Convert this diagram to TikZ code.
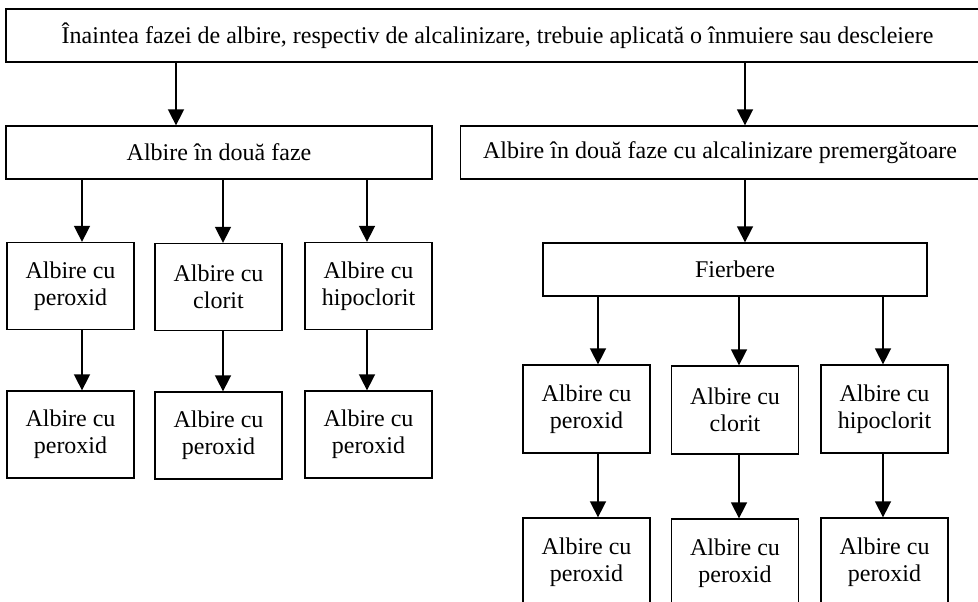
\documentclass[tikz,border=0pt]{standalone}
\usepackage{fontspec}
\setmainfont{Liberation Serif}
\usetikzlibrary{arrows.meta}

\begin{document}
\begin{tikzpicture}[x=1pt,y=-1pt,
    box/.style={draw,line width=1.3pt,inner sep=0pt,align=center,minimum width=127pt,minimum height=87pt,font=\fontsize{24}{27}\selectfont},
    wide/.style={box,minimum height=53pt},
    arr/.style={-{Triangle[length=16pt,width=16pt]},line width=1.6pt}]
    \useasboundingbox (0,0) rectangle (978,602);
    \clip (0,0) rectangle (978,602);

    \node [wide,minimum width=983pt] (top) at (497.5,35.5) {Înaintea fazei de albire, respectiv de alcalinizare, trebuie aplicată o înmuiere sau descleiere};
    \node [wide,minimum width=426pt] (two) at (219,152.5) {Albire în două faze};
    \node [wide,minimum width=519pt] (twoalk) at (720,152.5) {Albire în două faze cu alcalinizare premergătoare};
    \node [wide,minimum width=384pt] (fier) at (735,269.5) {Fierbere};

    \node [box] (b1) at (70.5,286) {Albire cu\\peroxid};
    \node [box] (b2) at (218.5,287) {Albire cu\\clorit};
    \node [box] (b3) at (368.5,286) {Albire cu\\hipoclorit};
    \node [box] (d1) at (70.5,434.5) {Albire cu\\peroxid};
    \node [box] (d2) at (218.5,435.5) {Albire cu\\peroxid};
    \node [box] (d3) at (368.5,434.5) {Albire cu\\peroxid};

    \node [box,minimum height=88pt] (c1) at (586.5,409) {Albire cu\\peroxid};
    \node [box,minimum height=88pt] (c2) at (735,410) {Albire cu\\clorit};
    \node [box,minimum height=88pt] (c3) at (884.5,409) {Albire cu\\hipoclorit};
    \node [box,minimum height=88pt] (e1) at (586.5,562) {Albire cu\\peroxid};
    \node [box,minimum height=88pt] (e2) at (735,563) {Albire cu\\peroxid};
    \node [box,minimum height=88pt] (e3) at (884.5,562) {Albire cu\\peroxid};

    \draw [arr] ([xshift=-43]two.north |- top.south) -- ([xshift=-43]two.north);
    \draw [arr] ([xshift=25]twoalk.north |- top.south) -- ([xshift=25]twoalk.north);
    \draw [arr] ([xshift=10]fier.north |- twoalk.south) -- ([xshift=10]fier.north);

    \draw [arr] ([xshift=11.5]b1.north |- two.south) -- ([xshift=11.5]b1.north);
    \draw [arr] ([xshift=4.5]b2.north |- two.south) -- ([xshift=4.5]b2.north);
    \draw [arr] ([xshift=-1.5]b3.north |- two.south) -- ([xshift=-1.5]b3.north);
    \draw [arr] ([xshift=11.5]b1.south) -- ([xshift=11.5]d1.north);
    \draw [arr] ([xshift=4.5]b2.south) -- ([xshift=4.5]d2.north);
    \draw [arr] ([xshift=-1.5]b3.south) -- ([xshift=-1.5]d3.north);

    \draw [arr] ([xshift=11.5]c1.north |- fier.south) -- ([xshift=11.5]c1.north);
    \draw [arr] ([xshift=4]c2.north |- fier.south) -- ([xshift=4]c2.north);
    \draw [arr] ([xshift=-1.5]c3.north |- fier.south) -- ([xshift=-1.5]c3.north);
    \draw [arr] ([xshift=11.5]c1.south) -- ([xshift=11.5]e1.north);
    \draw [arr] ([xshift=4]c2.south) -- ([xshift=4]e2.north);
    \draw [arr] ([xshift=-1.5]c3.south) -- ([xshift=-1.5]e3.north);
\end{tikzpicture}
\end{document}
